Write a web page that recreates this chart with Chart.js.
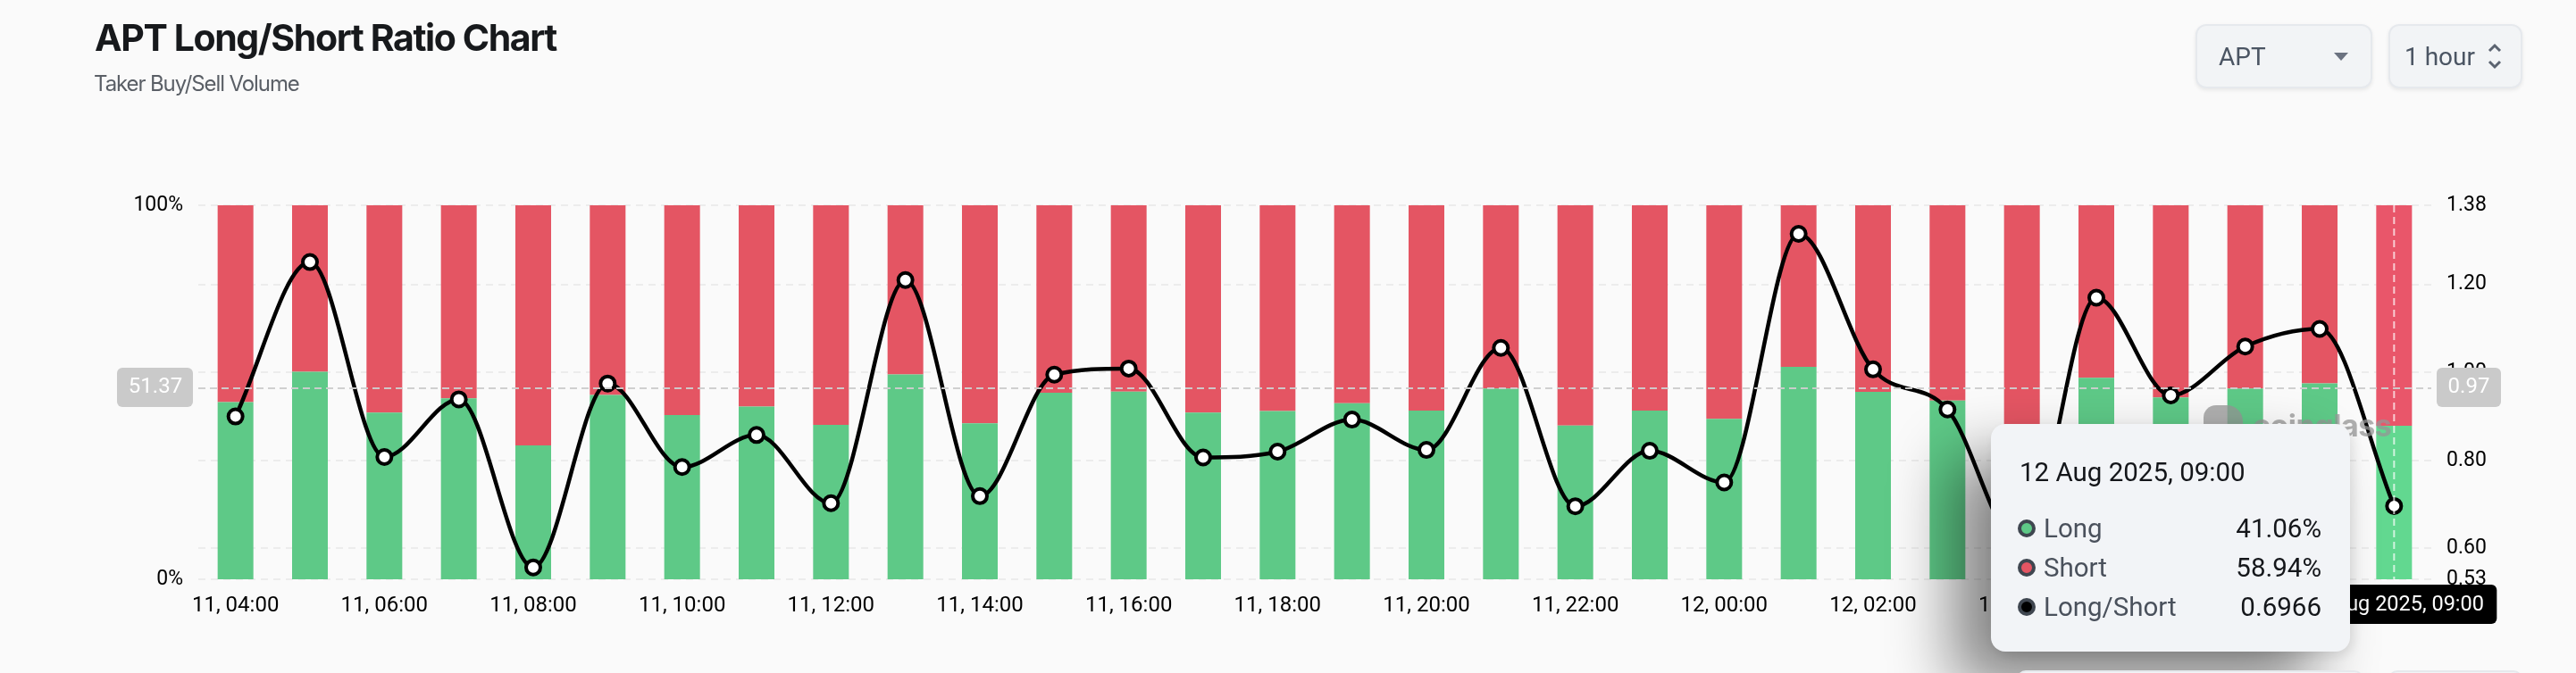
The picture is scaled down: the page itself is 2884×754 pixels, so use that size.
<!DOCTYPE html>
<html>
<head>
<meta charset="utf-8">
<title>APT Long/Short Ratio Chart</title>
<script src="https://cdn.jsdelivr.net/npm/chart.js@4/dist/chart.umd.min.js"></script>
<style>
  html, body { margin: 0; padding: 0; background: #fafafa; overflow: hidden; }
  body { position: relative; width: 2884px; height: 754px; font-family: Roboto, sans-serif; }
  #graph { position: absolute; left: 0; top: 0; }
  .abs { position: absolute; white-space: nowrap; }
  #titre { left: 106px; top: 16px; font: 700 41px/52px Inter, sans-serif; letter-spacing: -1.4px; color: #17191c; }
  #sousTitre { left: 105px; top: 79px; font: 400 24px/30px Inter, sans-serif; letter-spacing: -1.1px; color: #5a5f66; }
  .select { background: #f2f4f6; border: 2px solid #e6e9ed; border-radius: 12px; box-sizing: border-box;
            box-shadow: 0 2px 4px rgba(0,0,0,.08); top: 27px; height: 72px; color: #4b5563; font-size: 28px; line-height: 70px; }
  #selectApt { left: 2458px; width: 198px; padding-left: 24px; }
  #selectHeure { left: 2674px; width: 150px; padding-left: 16px; }
  #caret { left: 2613px; top: 59px; width: 0; height: 0; border-left: 8px solid transparent; border-right: 8px solid transparent; border-top: 9px solid #6b7280; }
  #chevrons { left: 2784px; top: 48px; }
  #filigrane { left: 2522px; top: 453px; font: 700 34px/48px Inter, sans-serif; color: rgba(150,150,150,.75); letter-spacing: -.5px; }
  #logo { left: 2467px; top: 454px; width: 44px; height: 28px; border-radius: 14px 18px 0 0; background: rgba(150,150,150,.75); }
  #infobulle { left: 2229px; top: 475px; width: 402px; height: 255px; border-radius: 16px; background: #f2f4f7;
               box-shadow: -42px 38px 70px rgba(0,0,0,.48), 4px 4px 14px rgba(0,0,0,.10); }
  #infoTitre { left: 32px; top: 36px; font-size: 29.5px; line-height: 36px; color: #14161a; }
  .ligne { left: 30px; width: 340px; height: 36px; line-height: 36px; font-size: 29.5px; color: #4a515c; }
  .ligne b { position: absolute; right: 0; top: 0; font-weight: 400; color: #14161a; }
  .ligne i { position: absolute; left: 0; top: 8px; width: 20px; height: 20px; border-radius: 50%; box-sizing: border-box; border: 4px solid #3f4650; }
  .ligne span { position: absolute; left: 29px; top: 0; }
  .basBoite { top: 751px; height: 20px; border: 2px solid #e6e9ed; border-radius: 10px; background: #f2f4f6; box-sizing: border-box; }
</style>
</head>
<body>
<canvas id="graph" width="2884" height="754"></canvas>

<div class="abs" id="titre">APT Long/Short Ratio Chart</div>
<div class="abs" id="sousTitre">Taker Buy/Sell Volume</div>

<div class="abs select" id="selectApt">APT</div>
<div class="abs" id="caret"></div>
<div class="abs select" id="selectHeure">1 hour</div>
<svg class="abs" id="chevrons" width="18" height="30" viewBox="0 0 18 30">
  <path d="M3 9 L9 3 L15 9 M3 21 L9 27 L15 21" fill="none" stroke="#5b6370" stroke-width="3"/>
</svg>

<div class="abs" id="logo"></div>
<div class="abs" id="filigrane">coinglass</div>

<div class="abs" id="infobulle">
  <div class="abs" id="infoTitre">12 Aug 2025, 09:00</div>
  <div class="abs ligne" style="top:99px"><i style="background:#5ec987"></i><span>Long</span><b id="valLong"></b></div>
  <div class="abs ligne" style="top:143px"><i style="background:#e45563"></i><span>Short</span><b id="valShort"></b></div>
  <div class="abs ligne" style="top:187px"><i style="background:#000"></i><span>Long/Short</span><b id="valRatio"></b></div>
</div>

<div class="abs basBoite" style="left:2258px;width:388px"></div>
<div class="abs basBoite" style="left:2674px;width:150px"></div>

<script>
// heures affichées sur l'axe du bas
const categories = [
  '11, 04:00', '11, 05:00', '11, 06:00', '11, 07:00', '11, 08:00', '11, 09:00',
  '11, 10:00', '11, 11:00', '11, 12:00', '11, 13:00', '11, 14:00', '11, 15:00',
  '11, 16:00', '11, 17:00', '11, 18:00', '11, 19:00', '11, 20:00', '11, 21:00',
  '11, 22:00', '11, 23:00', '12, 00:00', '12, 01:00', '12, 02:00', '12, 03:00',
  '12, 04:00', '12, 05:00', '12, 06:00', '12, 07:00', '12, 08:00', '12, 09:00'
];

// valeurs (la 25e est cachée par l'infobulle, donc estimée)
const longValues = [
  47.4, 55.5, 44.6, 48.4, 35.8, 49.3, 43.9, 46.2, 41.3, 54.8,
  41.7, 49.9, 50.2, 44.6, 45.0, 47.1, 45.1, 51.0, 41.1, 45.1,
  42.9, 56.8, 50.1, 47.8, 37.5, 53.9, 48.6, 51.0, 52.4, 41.06
];
const shortValues = [
  52.6, 44.5, 55.4, 51.6, 64.2, 50.7, 56.1, 53.8, 58.7, 45.2,
  58.3, 50.1, 49.8, 55.4, 55.0, 52.9, 54.9, 49.0, 58.9, 54.9,
  57.1, 43.2, 49.9, 52.2, 62.5, 46.1, 51.4, 49.0, 47.6, 58.94
];
const ratioValues = [
  0.900, 1.251, 0.808, 0.939, 0.557, 0.975, 0.785, 0.858, 0.703, 1.210,
  0.719, 0.995, 1.009, 0.807, 0.820, 0.893, 0.824, 1.056, 0.696, 0.822,
  0.750, 1.315, 1.007, 0.916, 0.600, 1.170, 0.948, 1.059, 1.099, 0.6966
];

// graduations des deux axes
const leftTicks = [0, 100];
const rightTicks = [0.53, 0.60, 0.80, 1.00, 1.20, 1.38];

// curseur figé de la capture
const cursorLeftLabel = '51.37';
const cursorRightLabel = '0.97';
const cursorRatio = 0.964;
const cursorDate = '12 Aug 2025, 09:00';

const lastIndex = categories.length - 1;

document.getElementById('valLong').textContent = longValues[lastIndex].toFixed(2) + '%';
document.getElementById('valShort').textContent = shortValues[lastIndex].toFixed(2) + '%';
document.getElementById('valRatio').textContent = ratioValues[lastIndex].toFixed(4);

function roundBox(ctx, x, y, w, h, r, color) {
  ctx.fillStyle = color;
  ctx.beginPath();
  ctx.roundRect(x, y, w, h, r);
  ctx.fill();
}

// dessine le réticule et ses étiquettes au dessus du graphique
const cursorPlugin = {
  id: 'cursor',
  afterDatasetsDraw(chart) {
    const ctx = chart.ctx, area = chart.chartArea;
    const y = chart.scales.y1.getPixelForValue(cursorRatio);
    const x = chart.scales.x.getPixelForValue(lastIndex);
    ctx.save();
    ctx.lineWidth = 2;
    ctx.setLineDash([8, 5]);
    ctx.strokeStyle = 'rgba(205,205,205,0.95)';
    ctx.beginPath();
    ctx.moveTo(area.left, y);
    ctx.lineTo(area.right, y);
    ctx.stroke();
    ctx.strokeStyle = 'rgba(255,255,255,0.7)';
    ctx.beginPath();
    ctx.moveTo(x, area.top);
    ctx.lineTo(x, area.bottom);
    ctx.stroke();
    ctx.restore();
  },
  afterDraw(chart) {
    const ctx = chart.ctx, area = chart.chartArea;
    const y = chart.scales.y1.getPixelForValue(cursorRatio);
    const x = chart.scales.x.getPixelForValue(lastIndex);
    ctx.save();
    ctx.font = '24px Roboto';
    ctx.textAlign = 'center';
    ctx.textBaseline = 'middle';
    roundBox(ctx, area.left - 91, y - 23, 85, 44, 6, '#cacaca');
    roundBox(ctx, area.right + 6, y - 23, 72, 44, 6, '#cacaca');
    ctx.fillStyle = '#fff';
    ctx.fillText(cursorLeftLabel, area.left - 48, y - 1);
    ctx.fillText(cursorRightLabel, area.right + 42, y - 1);
    // date du curseur sur l'axe du bas
    roundBox(ctx, x - 115, area.bottom + 6, 230, 44, 6, '#000');
    ctx.font = '23.5px Roboto';
    ctx.fillStyle = '#fff';
    ctx.fillText(cursorDate, x, area.bottom + 29);
    ctx.restore();
  }
};

new Chart(document.getElementById('graph').getContext('2d'), {
  type: 'bar',
  data: {
    labels: categories,
    datasets: [
      {
        type: 'line',
        label: 'Long/Short',
        data: ratioValues,
        yAxisID: 'y1',
        order: 0,
        borderColor: '#000',
        borderWidth: 4.5,
        cubicInterpolationMode: 'monotone',
        pointRadius: 8,
        pointBorderWidth: 4,
        pointBackgroundColor: '#fff',
        pointBorderColor: '#000'
      },
      {
        label: 'Long',
        data: longValues,
        yAxisID: 'y',
        order: 1,
        backgroundColor: ctx => ctx.dataIndex === lastIndex ? '#62d890' : '#5ec987'
      },
      {
        label: 'Short',
        data: shortValues,
        yAxisID: 'y',
        order: 1,
        backgroundColor: ctx => ctx.dataIndex === lastIndex ? '#e9566a' : '#e45563'
      }
    ]
  },
  options: {
    responsive: false,
    animation: false,
    events: [],
    layout: { padding: { top: 230 } },
    datasets: { bar: { barPercentage: 0.48, categoryPercentage: 1 } },
    plugins: {
      legend: { display: false },
      tooltip: { enabled: false }
    },
    scales: {
      x: {
        stacked: true,
        grid: { display: false },
        border: { display: false },
        afterFit(scale) { scale.height = 105; },
        ticks: {
          autoSkip: false,
          maxRotation: 0,
          padding: 8,
          color: '#000',
          font: { family: 'Roboto', size: 24 },
          callback(value, index) {
            return index % 2 ? '' : categories[index];
          }
        }
      },
      y: {
        stacked: true,
        min: 0,
        max: 100,
        position: 'left',
        grid: { display: false },
        border: { display: false },
        afterBuildTicks(scale) { scale.ticks = leftTicks.map(v => ({ value: v })); },
        afterFit(scale) { scale.width = 222; },
        ticks: {
          padding: 9,
          color: '#000',
          font: { family: 'Roboto', size: 23 },
          callback: value => value + '%'
        }
      },
      y1: {
        min: 0.53,
        max: 1.38,
        position: 'right',
        grid: { color: '#ececec', lineWidth: 2, drawTicks: false },
        border: { display: false, dash: [8, 6] },
        afterBuildTicks(scale) { scale.ticks = rightTicks.map(v => ({ value: v })); },
        afterFit(scale) { scale.width = 162; },
        ticks: {
          padding: 17,
          color: '#000',
          font: { family: 'Roboto', size: 23 },
          callback: value => value.toFixed(2)
        }
      }
    }
  },
  plugins: [cursorPlugin]
});
</script>
</body>
</html>
